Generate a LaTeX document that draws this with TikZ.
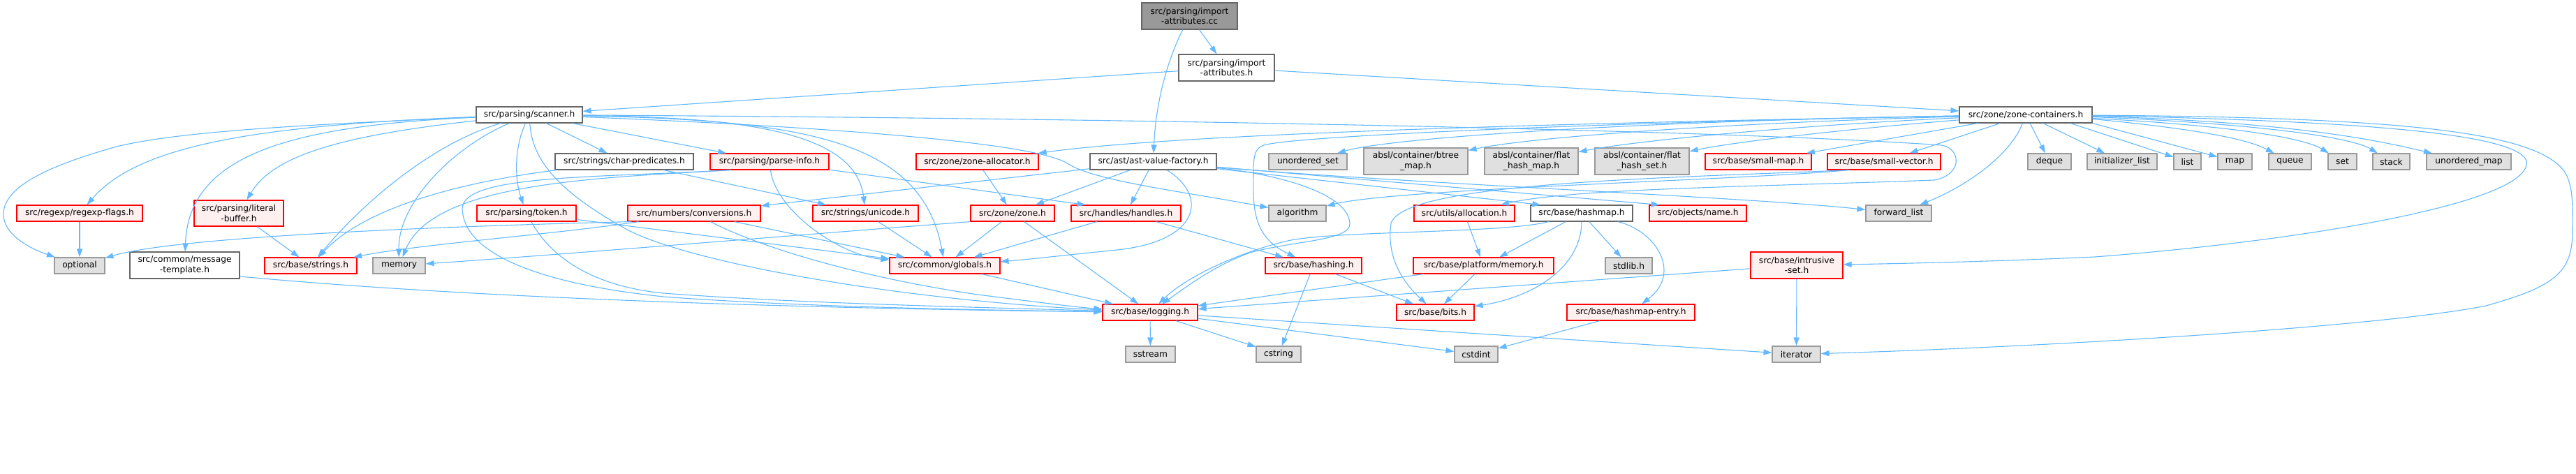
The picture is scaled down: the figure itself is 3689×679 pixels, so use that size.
\documentclass[tikz,border=0pt]{standalone}
\usepackage{fontspec}
\setmainfont{DejaVu Sans}
\usetikzlibrary{arrows.meta,calc}
\definecolor{edgec}{HTML}{63B8FF}
\definecolor{rfill}{HTML}{FFF0F0}
\definecolor{rdraw}{HTML}{FF0000}
\definecolor{gfill}{HTML}{E0E0E0}
\definecolor{gdraw}{HTML}{999999}
\definecolor{wdraw}{HTML}{666666}
\definecolor{mfill}{HTML}{999999}
\tikzset{
  nbase/.style={draw, line width=1.1pt, inner sep=0pt, align=center, text=black,
    font=\fontsize{12.2}{14.6}\selectfont},
  rbox/.style={nbase, draw=rdraw, fill=rfill},
  gbox/.style={nbase, draw=gdraw, fill=gfill},
  wbox/.style={nbase, draw=wdraw, fill=white},
  mbox/.style={nbase, draw=wdraw, fill=mfill},
  e/.style={draw=edgec, line width=1.1pt, -{Triangle[length=12pt,width=8pt]}},
}
\newcommand{\nd}[7]{\node[#1, minimum width=#5pt, minimum height=#6pt] (#2) at (#3,#4) {#7};}
\begin{document}
\begin{tikzpicture}[x=1pt,y=-1pt]
\useasboundingbox (0,0) rectangle (3689,679);
% rank 0-2
\nd{mbox}{cc}{1703.5}{23}{137}{38}{src/parsing/import\\-attributes.cc}
\nd{wbox}{iah}{1756.5}{97}{137}{38}{src/parsing/import\\-attributes.h}
\nd{wbox}{scanner}{758}{164.5}{152}{23}{src/parsing/scanner.h}
\nd{wbox}{zc}{2901}{164.5}{190}{23}{src/zone/zone-containers.h}
% rank 3
\nd{rbox}{alloc}{1399.5}{231.5}{175}{23}{src/zone/zone-allocator.h}
\nd{wbox}{charp}{894}{231.5}{198}{23}{src/strings/char-predicates.h}
\nd{rbox}{pinfo}{1102}{231.5}{170}{23}{src/parsing/parse-info.h}
\nd{wbox}{avf}{1651.5}{231.5}{181}{23}{src/ast/ast-value-factory.h}
\nd{gbox}{uset}{1873}{231.5}{112}{23}{unordered\_set}
\nd{gbox}{btree}{2027.5}{231}{149}{38}{absl/container/btree\\\_map.h}
\nd{gbox}{fhm}{2193}{231}{134}{38}{absl/container/flat\\\_hash\_map.h}
\nd{gbox}{fhs}{2351.5}{231}{135}{38}{absl/container/flat\\\_hash\_set.h}
\nd{rbox}{smap}{2518}{231.5}{152}{23}{src/base/small-map.h}
\nd{rbox}{svec}{2698}{231.5}{162}{23}{src/base/small-vector.h}
\nd{gbox}{deque}{2935}{231.5}{62}{23}{deque}
\nd{gbox}{initl}{3039}{231.5}{100}{23}{initializer\_list}
\nd{gbox}{list}{3132.5}{231.5}{39}{23}{list}
\nd{gbox}{map}{3200.5}{231.5}{49}{23}{map}
\nd{gbox}{queue}{3279.5}{231.5}{61}{23}{queue}
\nd{gbox}{set}{3354.5}{231.5}{41}{23}{set}
\nd{gbox}{stack}{3424.5}{231.5}{53}{23}{stack}
\nd{gbox}{umap}{3535.5}{231.5}{121}{23}{unordered\_map}
% rank 4
\nd{rbox}{regexp}{114}{305.5}{180}{23}{src/regexp/regexp-flags.h}
\nd{rbox}{litbuf}{342}{305.5}{128}{37}{src/parsing/literal\\-buffer.h}
\nd{rbox}{token}{754}{305.5}{142}{23}{src/parsing/token.h}
\nd{rbox}{conv}{994}{305.5}{190}{23}{src/numbers/conversions.h}
\nd{rbox}{unicode}{1239.5}{305.5}{151}{23}{src/strings/unicode.h}
\nd{rbox}{zone}{1450}{305.5}{120}{23}{src/zone/zone.h}
\nd{rbox}{handles}{1612.5}{305.5}{157}{23}{src/handles/handles.h}
\nd{gbox}{algo}{1858}{305.5}{82}{23}{algorithm}
\nd{rbox}{ualloc}{2097}{305.5}{144}{23}{src/utils/allocation.h}
\nd{wbox}{hashmap}{2265}{305.5}{146}{23}{src/base/hashmap.h}
\nd{rbox}{name}{2431.5}{305.5}{139}{23}{src/objects/name.h}
\nd{gbox}{flist}{2719}{305.5}{94}{23}{forward\_list}
% rank 5
\nd{gbox}{optional}{114}{380.5}{72}{23}{optional}
\nd{wbox}{msgt}{264.5}{380}{157}{38}{src/common/message\\-template.h}
\nd{rbox}{bstrings}{445}{380.5}{132}{23}{src/base/strings.h}
\nd{gbox}{memory}{571.5}{380.5}{75}{23}{memory}
\nd{rbox}{globals}{1353}{380.5}{158}{23}{src/common/globals.h}
\nd{rbox}{hashing}{1881}{380.5}{138}{23}{src/base/hashing.h}
\nd{rbox}{pmem}{2124.5}{380.5}{201}{23}{src/base/platform/memory.h}
\nd{gbox}{stdlib}{2332.5}{380.5}{67}{23}{stdlib.h}
\nd{rbox}{iset}{2573}{380}{132}{38}{src/base/intrusive\\-set.h}
% rank 6-7
\nd{rbox}{logging}{1647}{447.5}{136}{23}{src/base/logging.h}
\nd{rbox}{bits}{2055.5}{447.5}{111}{23}{src/base/bits.h}
\nd{rbox}{hentry}{2335.5}{447.5}{183}{23}{src/base/hashmap-entry.h}
\nd{gbox}{sstream}{1647.5}{507.5}{71}{23}{sstream}
\nd{gbox}{cstring}{1831}{507.5}{64}{23}{cstring}
\nd{gbox}{cstdint}{2114}{507.5}{62}{23}{cstdint}
\nd{gbox}{iterator}{2572.5}{507.5}{69}{23}{iterator}

% edges: top
\draw[e] (cc) -- (iah);
\draw[e] (cc) .. controls (1670,90) and (1655,150) .. (avf);
\draw[e] (iah) -- (scanner);
\draw[e] (iah) -- (zc);
% scanner
\draw[e] (scanner) .. controls (400,180) and (250,190) .. (167,210) .. controls (60,240) and (5,270) .. (5,307) .. controls (5,335) and (40,355) .. (optional);
\draw[e] (scanner) .. controls (350,180) and (195,212) .. (regexp);
\draw[e] (scanner) .. controls (420,180) and (270,220) .. (msgt);
\draw[e] (scanner) .. controls (480,195) and (390,225) .. (litbuf);
\draw[e] (scanner) .. controls (620,205) and (520,290) .. (bstrings);
\draw[e] (scanner) .. controls (650,210) and (570,290) .. (memory);
\draw[e] (scanner) .. controls (735,215) and (738,260) .. (token);
\draw[e] (scanner) .. controls (762,230) and (800,275) .. (900,330) .. controls (1000,380) and (1300,430) .. (logging);
\draw[e] (scanner) -- (charp);
\draw[e] (scanner) -- (pinfo);
\draw[e] (scanner) .. controls (1050,168) and (1225,185) .. (unicode);
\draw[e] (scanner) .. controls (1150,172) and (1320,200) .. (globals);
\draw[e] (scanner) .. controls (1100,178) and (1480,200) .. (1530,235) .. controls (1570,260) and (1700,275) .. (algo);
\draw[e] (scanner) .. controls (1700,170) and (2500,188) .. (2780,208) .. controls (2808,212) and (2812,250) .. (2770,258) .. controls (2500,268) and (2250,270) .. (ualloc);
% ast-value-factory
\draw[e] (avf) -- (conv);
\draw[e] (avf) -- (zone);
\draw[e] (avf) -- (handles);
\draw[e] (avf) .. controls (1730,280) and (1720,345) .. (1600,358) .. controls (1520,366) and (1470,372) .. (globals);
\draw[e] (avf) .. controls (1800,246) and (1930,270) .. (1933,320) .. controls (1935,345) and (1850,345) .. (1790,362) .. controls (1740,380) and (1700,410) .. (logging);
\draw[e] (avf) -- ($(hashmap.north west)+(15,0)$);
\draw[e] (avf) -- ($(name.north west)+(15,0)$);
\draw[e] (avf) .. controls (2000,262) and (2500,282) .. (flist);
% zone-containers
\draw[e] (zc) .. controls (2300,175) and (1700,190) .. (alloc);
\draw[e] (zc) .. controls (2400,172) and (2000,195) .. (uset);
\draw[e] (zc) .. controls (2500,175) and (2200,195) .. (btree);
\draw[e] (zc) .. controls (2600,178) and (2350,200) .. (fhm);
\draw[e] (zc) .. controls (2700,180) and (2500,200) .. (fhs);
\draw[e] (zc) -- (smap);
\draw[e] (zc) -- (svec);
\draw[e] (zc) .. controls (2300,175) and (1850,195) .. (1810,208) .. controls (1796,212) and (1795,225) .. (1795,250) .. controls (1794,300) and (1795,340) .. (hashing);
\draw[e] (zc) -- (deque);
\draw[e] (zc) -- (initl);
\draw[e] ($(zc.south)+(64,0)$) -- (list);
\draw[e] (zc.south east) -- (map);
\draw[e] ($(zc.east)+(0,6)$) .. controls (3150,185) and (3220,200) .. (queue);
\draw[e] ($(zc.east)+(0,5)$) .. controls (3200,180) and (3300,198) .. (set);
\draw[e] ($(zc.east)+(0,3)$) .. controls (3250,178) and (3370,198) .. (stack);
\draw[e] ($(zc.east)+(0,2)$) .. controls (3300,175) and (3420,205) .. (umap);
\draw[e] (zc) .. controls (2880,220) and (2820,265) .. (flist);
\draw[e] ($(zc.east)+(0,1)$) .. controls (3300,172) and (3600,185) .. (3618,230) .. controls (3630,290) and (3300,345) .. (3000,368) .. controls (2850,375) and (2700,378) .. (iset);
\draw[e] (zc) .. controls (3450,168) and (3630,190) .. (3672,245) .. controls (3685,265) and (3684,290) .. (3684,330) .. controls (3684,390) and (3660,410) .. (3560,438) .. controls (3400,470) and (2900,498) .. (iterator);
% lower
\draw[e] (logging) -- (sstream);
\draw[e] (logging) -- (cstring);
\draw[e] (logging) -- (cstdint);
\draw[e] (logging) -- (iterator);
\draw[e] (globals) -- (logging);
\draw[e] (zone) -- (globals);
\draw[e] (zone) -- (logging);
\draw[e] (zone.south west) .. controls (1100,340) and (800,365) .. (memory);
\draw[e] (handles) -- (globals);
\draw[e] (handles) -- (hashing);
\draw[e] (hashing) -- (bits);
\draw[e] (hashing) -- (cstring);
\draw[e] (ualloc) -- (pmem);
\draw[e] (hashmap) -- (pmem);
\draw[e] (hashmap) .. controls (2265,380) and (2200,425) .. (bits);
\draw[e] (hashmap) -- (stdlib);
\draw[e] (hashmap) .. controls (2370,330) and (2410,390) .. (hentry);
\draw[e] (hashmap) .. controls (2150,335) and (1900,330) .. (1840,346) .. controls (1780,360) and (1700,395) .. (logging);
\draw[e] (hentry) -- (cstdint);
\draw[e] (pmem) -- (bits);
\draw[e] (pmem) -- (logging);
\draw[e] (iset) -- (logging);
\draw[e] (iset) -- (iterator);
\draw[e] (regexp) -- (optional);
\draw[e] (litbuf) -- (bstrings);
\draw[e] (token) .. controls (790,370) and (850,410) .. (950,420) .. controls (1150,435) and (1400,440) .. (logging);
\draw[e] (token) -- (globals);
\draw[e] (charp) .. controls (650,262) and (520,300) .. (bstrings);
\draw[e] (charp) -- (unicode);
\draw[e] ($(pinfo.south)+(-55,0)$) .. controls (850,255) and (620,262) .. (memory);
\draw[e] ($(pinfo.south)+(-55,0)$) .. controls (850,255) and (660,250) .. (662,300) .. controls (665,360) and (760,405) .. (950,425) .. controls (1150,440) and (1400,444) .. (logging);
\draw[e] (pinfo) .. controls (1110,300) and (1200,365) .. (globals);
\draw[e] (pinfo) -- ($(handles.north)+(-58,0)$);
\draw[e] ($(conv.south west)+(6,0)$) .. controls (600,325) and (250,340) .. (optional);
\draw[e] (conv) .. controls (800,335) and (600,350) .. (bstrings);
\draw[e] (conv) -- (globals);
\draw[e] (conv) .. controls (1100,360) and (1250,400) .. (1400,422) .. controls (1480,432) and (1540,440) .. (logging);
\draw[e] (unicode) -- (globals);
\draw[e] ($(msgt.east)+(0,16)$) .. controls (600,420) and (1000,440) .. (logging);
\draw[e] (alloc) -- (zone);
\draw[e] ($(svec.south)+(-50,0)$) .. controls (2500,258) and (2000,270) .. (algo);
\draw[e] ($(svec.south)+(-50,0)$) .. controls (2400,255) and (2010,260) .. (1992,320) .. controls (1985,370) and (2010,405) .. (bits);
\end{tikzpicture}
\end{document}
